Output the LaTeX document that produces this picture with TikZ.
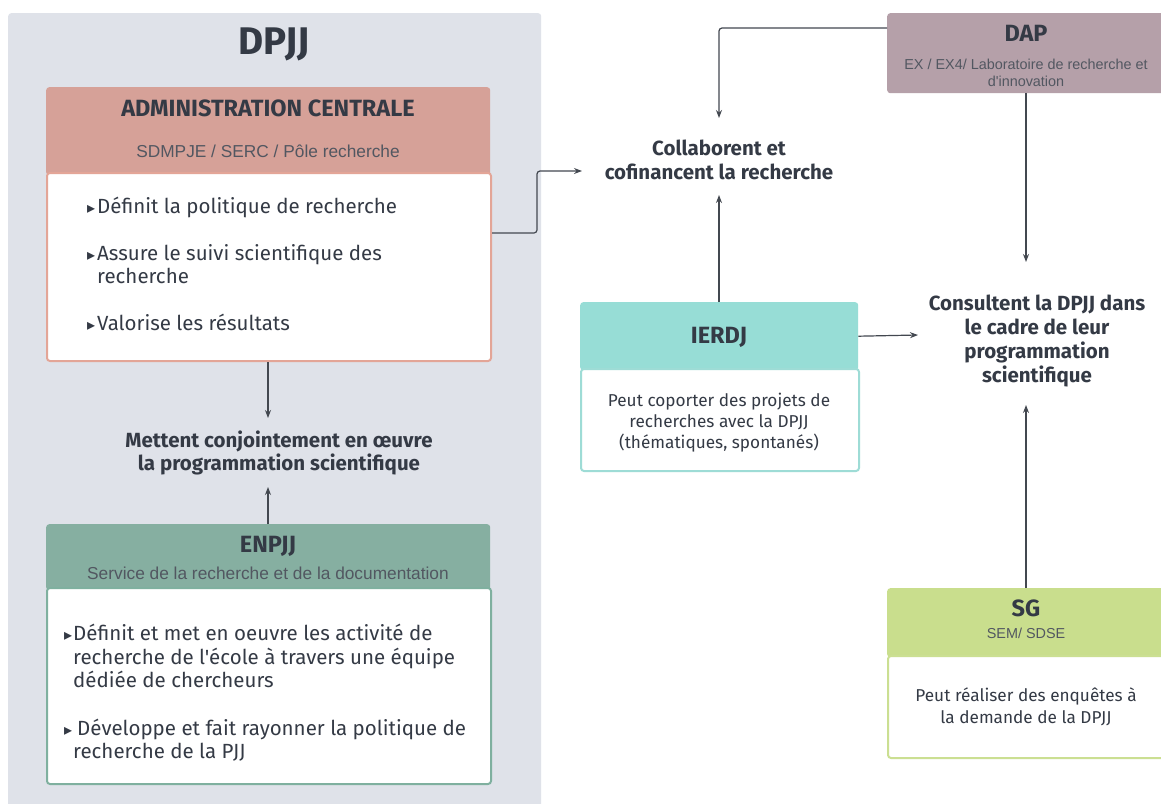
\documentclass[tikz,border=0pt]{standalone}
\usepackage{fontspec}
\setmainfont{Fira Sans}[Ligatures=TeXOff]
\newfontfamily\arialf{Liberation Sans}
\newfontfamily\dejavuf{DejaVu Sans}
\usetikzlibrary{arrows.meta}
\definecolor{txt}{HTML}{343A45}
\definecolor{arrowc}{HTML}{434850}
\definecolor{dpjjbg}{HTML}{DFE2E9}
\definecolor{adminh}{HTML}{D6A198}
\definecolor{adminb}{HTML}{E3A597}
\definecolor{enpjjh}{HTML}{86AFA1}
\definecolor{enpjjb}{HTML}{7FB09F}
\definecolor{daph}{HTML}{B5A0A9}
\definecolor{ierdjh}{HTML}{97DDD6}
\definecolor{ierdjb}{HTML}{9EDCD6}
\definecolor{sgh}{HTML}{C9DE8D}
\definecolor{sgb}{HTML}{CBDF92}
\newcommand{\tri}{\makebox[10pt][l]{\raisebox{0pt}{\dejavuf\fontsize{16}{16}\selectfont ▸}}}
\tikzset{
  boxh/.style={rectangle, rounded corners=3pt, anchor=north west, inner sep=0pt, draw=none},
  boxb/.style={rectangle, rounded corners=3pt, anchor=north west, inner sep=0pt, fill=white, line width=2pt},
  ttl/.style={anchor=base, inner sep=0pt, text=txt, font=\bfseries\fontsize{23.5}{27}\selectfont},
  sub/.style={anchor=base, inner sep=0pt, text=txt!85, font=\arialf\fontsize{17.3}{20}\selectfont},
  smallsub/.style={anchor=base, inner sep=0pt, text=txt!85, font=\arialf\fontsize{14.4}{17}\selectfont},
  bul/.style={anchor=base west, inner sep=0pt, text=txt, font=\fontsize{20.5}{24}\selectfont},
  body/.style={anchor=base, inner sep=0pt, text=txt, font=\fontsize{17.2}{20}\selectfont},
  bold/.style={anchor=base, inner sep=0pt, text=txt, font=\bfseries\fontsize{20.5}{24}\selectfont},
  conn/.style={draw=arrowc, line width=1.2pt, -{Stealth[length=8pt,width=6pt]}, rounded corners=3pt}
}
\begin{document}
\begin{tikzpicture}[x=1pt,y=-1pt]
\useasboundingbox (0,0) rectangle (1161,803);
\fill[white] (0,0) rectangle (1161,803);
% DPJJ background
\node[boxh, fill=dpjjbg, minimum width=533pt, minimum height=810pt] (dpjjbg) at (8,13) {};
\node[anchor=base, inner sep=0pt, text=txt, font=\bfseries\fontsize{38.5}{42}\selectfont] (dpjj) at (274,54) {DPJJ};

% Administration centrale
\node[boxh, fill=adminh, minimum width=444pt, minimum height=88pt] (adminH) at (46,87) {};
\node[boxb, draw=adminb, minimum width=444pt, minimum height=188pt] (adminB) at (46,172) {};
\node[ttl] (adminT) at (268,116) {ADMINISTRATION CENTRALE};
\node[sub] (adminS) at (268,157) {SDMPJE / SERC / Pôle recherche};
\node[bul] (a1) at (87,213) {\tri Définit la politique de recherche};
\node[bul] (a2) at (87,260) {\tri Assure le suivi scientifique des};
\node[bul] (a3) at (97,283) {recherche};
\node[bul] (a4) at (87,330) {\tri Valorise les résultats};

% Mettent
\node[bold] (met1) at (279,447) {Mettent conjointement en œuvre};
\node[bold] (met2) at (279,470) {la programmation scientifique};
\coordinate (metTop) at (268,418);
\coordinate (metBot) at (268,487);

% ENPJJ
\node[boxh, fill=enpjjh, minimum width=444pt, minimum height=66pt] (enpjjH) at (46,524) {};
\node[boxb, draw=enpjjb, minimum width=444pt, minimum height=196pt] (enpjjB) at (46,587) {};
\node[ttl] (enpjjT) at (268,552) {ENPJJ};
\node[sub] (enpjjS) at (268,579) {Service de la recherche et de la documentation};
\node[bul] (e1) at (64,640) {\tri\kern-1pt Définit et met en oeuvre les activité de};
\node[bul] (e2) at (73,664) {recherche de l'école à travers une équipe};
\node[bul] (e3) at (73,687) {dédiée de chercheurs};
\node[bul] (e4) at (64,735) {\tri\kern3pt Développe et fait rayonner la politique de};
\node[bul] (e5) at (73,758) {recherche de la PJJ};

% Collaborent
\node[bold] (col1) at (719,155) {Collaborent et};
\node[bold] (col2) at (719,179) {cofinancent la recherche};
\coordinate (colLeft) at (582,171);
\coordinate (colTop) at (719,118);
\coordinate (colBot) at (719,195);

% DAP
\node[boxh, fill=daph, minimum width=280pt, minimum height=80pt] (dapH) at (887,13) {};
\node[ttl] (dapT) at (1026,41) {DAP};
\node[smallsub] (dapS1) at (1026,69) {EX / EX4/ Laboratoire de recherche et};
\node[smallsub] (dapS2) at (1026,86) {d'innovation};

% Consultent
\node[bold] (con1) at (1037,310) {Consultent la DPJJ dans};
\node[bold] (con2) at (1037,334) {le cadre de leur};
\node[bold] (con3) at (1037,358) {programmation};
\node[bold] (con4) at (1037,382) {scientifique};
\coordinate (conTop) at (1026,262);
\coordinate (conLeft) at (918,335);
\coordinate (conBot) at (1026,405);

% IERDJ
\node[boxh, fill=ierdjh, minimum width=278pt, minimum height=68pt] (ierdjH) at (580,302) {};
\node[boxb, draw=ierdjb, minimum width=278pt, minimum height=102pt] (ierdjB) at (580,368) {};
\node[ttl] (ierdjT) at (719,343) {IERDJ};
\node[body] (i1) at (719,406) {Peut coporter des projets de};
\node[body] (i2) at (719,427) {recherches avec la DPJJ};
\node[body] (i3) at (719,448) {(thématiques, spontanés)};

% SG
\node[boxh, fill=sgh, minimum width=280pt, minimum height=69pt] (sgH) at (887,588) {};
\node[boxb, draw=sgb, minimum width=280pt, minimum height=102pt] (sgB) at (887,655) {};
\node[ttl] (sgT) at (1026,616) {SG};
\node[smallsub] (sgS) at (1026,638) {SEM/ SDSE};
\node[body] (s1) at (1026,701) {Peut réaliser des enquêtes à};
\node[body] (s2) at (1026,723) {la demande de la DPJJ};

% connectors
\draw[conn] (adminB.south -| metTop) -- (metTop);
\draw[conn] (enpjjH.north -| metBot) -- (metBot);
\draw[conn] (adminB.east |- 0,233) -- (537,233) -- (537,171) -- (colLeft);
\draw[conn] (dapH.west |- 0,28) -- (719,28) -- (colTop);
\draw[conn] (ierdjH.north -| colBot) -- (colBot);
\draw[conn] (dapH.south -| conTop) -- (conTop);
\draw[conn] (ierdjH.east) -- (conLeft);
\draw[conn] (sgH.north -| conBot) -- (conBot);
\end{tikzpicture}
\end{document}
